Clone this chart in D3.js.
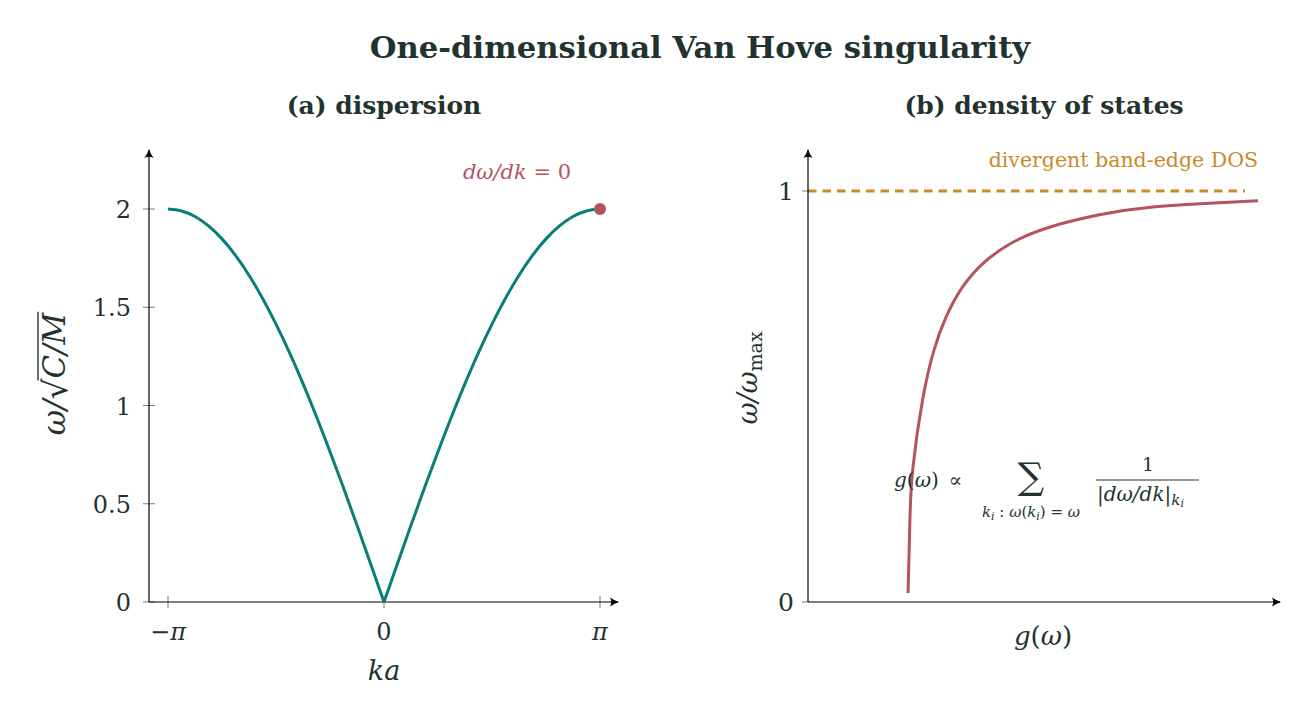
<!DOCTYPE html>
<html>
<head>
<meta charset="utf-8">
<script src="https://cdn.jsdelivr.net/npm/d3@7"></script>
<style>
  body { margin: 0; background: #fff; }
  text { font-family: "DejaVu Serif", serif; }
</style>
</head>
<body>
<div id="chart"></div>
<script>
// (a) dispersion, ka in units of pi, omega in units of sqrt(C/M)
const kaOverPi = [-1, -0.9375, -0.875, -0.8125, -0.75, -0.6875, -0.625, -0.5625, -0.5,
  -0.4375, -0.375, -0.3125, -0.25, -0.1875, -0.125, -0.0625, 0,
  0.0625, 0.125, 0.1875, 0.25, 0.3125, 0.375, 0.4375, 0.5,
  0.5625, 0.625, 0.6875, 0.75, 0.8125, 0.875, 0.9375, 1]
const omegaDisp = [2.0, 1.99, 1.962, 1.914, 1.848, 1.764, 1.663, 1.546, 1.414,
  1.269, 1.111, 0.943, 0.765, 0.581, 0.39, 0.196, 0,
  0.196, 0.39, 0.581, 0.765, 0.943, 1.111, 1.269, 1.414,
  1.546, 1.663, 1.764, 1.848, 1.914, 1.962, 1.99, 2.0]
const dispYTicks = [0, 0.5, 1, 1.5, 2]
const dispYTickLabels = ['0', '0.5', '1', '1.5', '2']
const dispXTicks = [-1, 0, 1]
const dispXTickLabels = ['\u2212\u03c0', '0', '\u03c0']

// (b) density of states, omega / omega_max vs g(omega) (arbitrary units)
const omegaDos = [0.022, 0.207, 0.328, 0.491, 0.613, 0.693, 0.766, 0.827, 0.873, 0.91, 0.942, 0.961, 0.971, 0.976]
const gDos = [0.975, 0.994, 1.023, 1.116, 1.228, 1.345, 1.505, 1.72, 1.98, 2.33, 2.84, 3.36, 3.96, 4.386]
const dosYTicks = [0, 1]
const dosYTickLabels = ['0', '1']
const bandEdge = 1

const ink = '#22332f'
const teal = '#0b7d78'
const red = '#b3545f'
const orange = '#c98a2b'

const W = 1304, H = 717

const svg = d3.select('#chart').append('svg')
    .attr('width', W)
    .attr('height', H)

const defs = svg.append('defs')
defs.append('marker')
    .attr('id', 'arrow')
    .attr('viewBox', '-10 -6 12 12')
    .attr('refX', 0)
    .attr('refY', 0)
    .attr('markerWidth', 12)
    .attr('markerHeight', 12)
    .attr('markerUnits', 'userSpaceOnUse')
    .attr('orient', 'auto')
    .append('path')
    .attr('d', 'M-8,-4.5 Q-3,-1 1,0 Q-3,1 -8,4.5 Q-5.5,0 -8,-4.5 Z')
    .attr('fill', '#000')

// title
svg.append('text')
    .attr('x', 700)
    .attr('y', 58)
    .attr('text-anchor', 'middle')
    .style('font-weight', 'bold')
    .style('font-size', '30.7px')
    .style('fill', ink)
    .text('One-dimensional Van Hove singularity')

// ---------- panel (a) ----------
const xA = d3.scaleLinear().domain([-1, 1]).range([168, 600])
const yA = d3.scaleLinear().domain([0, 2]).range([602, 209])
const axA = {left: 149, right: 618, top: 150}

const gA = svg.append('g')

gA.append('text')
    .attr('x', 384)
    .attr('y', 114)
    .attr('text-anchor', 'middle')
    .style('font-weight', 'bold')
    .style('font-size', '25px')
    .style('fill', ink)
    .text('(a) dispersion')

// ticks
dispYTicks.forEach((t, i) => {
    gA.append('line')
        .attr('x1', axA.left - 6).attr('x2', axA.left + 6)
        .attr('y1', yA(t)).attr('y2', yA(t))
        .attr('stroke', '#7a7a7a').attr('stroke-width', 1)
    gA.append('text')
        .attr('x', axA.left - 18)
        .attr('y', yA(t) + 9)
        .attr('text-anchor', 'end')
        .style('font-size', '24px')
        .style('fill', ink)
        .text(dispYTickLabels[i])
})
dispXTicks.forEach((t, i) => {
    gA.append('line')
        .attr('x1', xA(t)).attr('x2', xA(t))
        .attr('y1', yA(0) - 6).attr('y2', yA(0) + 6)
        .attr('stroke', '#7a7a7a').attr('stroke-width', 1)
    gA.append('text')
        .attr('x', xA(t))
        .attr('y', yA(0) + 38)
        .attr('text-anchor', 'middle')
        .style('font-size', '24px')
        .style('font-style', i == 1 ? 'normal' : 'italic')
        .style('fill', ink)
        .text(dispXTickLabels[i])
})

// axes
gA.append('line')
    .attr('x1', axA.left).attr('x2', axA.right)
    .attr('y1', yA(0)).attr('y2', yA(0))
    .attr('stroke', '#000').attr('stroke-width', 1.2)
    .attr('marker-end', 'url(#arrow)')
gA.append('line')
    .attr('x1', axA.left).attr('x2', axA.left)
    .attr('y1', yA(0)).attr('y2', axA.top)
    .attr('stroke', '#000').attr('stroke-width', 1.2)
    .attr('marker-end', 'url(#arrow)')

// curve, two branches so the cusp at k = 0 stays sharp
const dispData = kaOverPi.map((k, i) => ({k: k, w: omegaDisp[i]}))
const lineA = d3.line()
    .x(d => xA(d.k))
    .y(d => yA(d.w))
    .curve(d3.curveMonotoneX)
;[dispData.filter(d => d.k <= 0), dispData.filter(d => d.k >= 0)].forEach(branch => {
    gA.append('path')
        .datum(branch)
        .attr('d', lineA)
        .attr('fill', 'none')
        .attr('stroke', teal)
        .attr('stroke-width', 3)
        .attr('stroke-linejoin', 'round')
})

// band-edge point
gA.append('circle')
    .attr('cx', xA(1))
    .attr('cy', yA(2))
    .attr('r', 6)
    .attr('fill', red)

gA.append('text')
    .attr('x', 517)
    .attr('y', 179)
    .attr('text-anchor', 'middle')
    .style('font-size', '21px')
    .style('font-style', 'italic')
    .style('fill', red)
    .html('d\u03c9/dk <tspan font-style="normal">= 0</tspan>')

// x label
gA.append('text')
    .attr('x', 384)
    .attr('y', 680)
    .attr('text-anchor', 'middle')
    .style('font-size', '27px')
    .style('font-style', 'italic')
    .style('fill', ink)
    .text('ka')

// y label: omega / sqrt(C/M)
const yLabA = gA.append('g')
    .attr('transform', 'translate(65,374)rotate(-90)')
const partW = yLabA.append('text')
    .style('font-size', '31px').style('font-style', 'italic').style('fill', ink)
    .text('\u03c9/')
const partR = yLabA.append('text')
    .style('font-size', '33px').style('fill', ink)
    .text('\u221a')
const partCM = yLabA.append('text')
    .style('font-size', '31px').style('font-style', 'italic').style('fill', ink)
    .text('C/M')
const w1 = partW.node().getComputedTextLength()
const w2 = partR.node().getComputedTextLength()
const w3 = partCM.node().getComputedTextLength()
const start = -(w1 + w2 + w3) / 2
partW.attr('x', start)
partR.attr('x', start + w1).attr('y', 2)
partCM.attr('x', start + w1 + w2)
yLabA.append('line')
    .attr('x1', start + w1 + w2 - 2).attr('x2', start + w1 + w2 + w3 + 1)
    .attr('y1', -27).attr('y2', -27)
    .attr('stroke', ink).attr('stroke-width', 1.4)

// ---------- panel (b) ----------
const xB = d3.scaleLinear().domain([0, 4.6]).range([808, 1280])
const yB = d3.scaleLinear().domain([0, 1]).range([602, 191])
const axB = {top: 150}

const gB = svg.append('g')

gB.append('text')
    .attr('x', 1044)
    .attr('y', 114)
    .attr('text-anchor', 'middle')
    .style('font-weight', 'bold')
    .style('font-size', '25px')
    .style('fill', ink)
    .text('(b) density of states')

dosYTicks.forEach((t, i) => {
    gB.append('line')
        .attr('x1', xB(0) - 6).attr('x2', xB(0))
        .attr('y1', yB(t)).attr('y2', yB(t))
        .attr('stroke', '#7a7a7a').attr('stroke-width', 1)
    gB.append('text')
        .attr('x', xB(0) - 14)
        .attr('y', yB(t) + 9)
        .attr('text-anchor', 'end')
        .style('font-size', '25px')
        .style('fill', ink)
        .text(dosYTickLabels[i])
})

// band edge dashed line
gB.append('line')
    .attr('x1', xB(0)).attr('x2', 1245)
    .attr('y1', yB(bandEdge)).attr('y2', yB(bandEdge))
    .attr('stroke', orange)
    .attr('stroke-width', 2.8)
    .attr('stroke-dasharray', '8.5,6')

gB.append('text')
    .attr('x', 1258)
    .attr('y', 167)
    .attr('text-anchor', 'end')
    .style('font-size', '20.5px')
    .style('fill', orange)
    .text('divergent band-edge DOS')

// axes
gB.append('line')
    .attr('x1', xB(0)).attr('x2', xB.range()[1])
    .attr('y1', yB(0)).attr('y2', yB(0))
    .attr('stroke', '#000').attr('stroke-width', 1.2)
    .attr('marker-end', 'url(#arrow)')
gB.append('line')
    .attr('x1', xB(0)).attr('x2', xB(0))
    .attr('y1', yB(0)).attr('y2', axB.top)
    .attr('stroke', '#000').attr('stroke-width', 1.2)
    .attr('marker-end', 'url(#arrow)')

const dosData = omegaDos.map((w, i) => ({g: gDos[i], w: w}))
gB.append('path')
    .datum(dosData)
    .attr('d', d3.line()
        .x(d => xB(d.g))
        .y(d => yB(d.w))
        .curve(d3.curveNatural))
    .attr('fill', 'none')
    .attr('stroke', red)
    .attr('stroke-width', 3)

// axis labels
gB.append('text')
    .attr('x', 1043)
    .attr('y', 645)
    .attr('text-anchor', 'middle')
    .style('font-size', '26px')
    .style('font-style', 'italic')
    .style('fill', ink)
    .html('g<tspan font-style="normal">(</tspan>\u03c9<tspan font-style="normal">)</tspan>')

gB.append('text')
    .attr('transform', 'translate(757,378)rotate(-90)')
    .attr('text-anchor', 'middle')
    .style('font-size', '27px')
    .style('font-style', 'italic')
    .style('fill', ink)
    .html('\u03c9/\u03c9<tspan font-style="normal" font-size="19px" dy="5">max</tspan>')

// formula annotation
const fm = gB.append('g').style('fill', ink)
fm.append('text')
    .attr('x', 894).attr('y', 487)
    .style('font-size', '20px').style('font-style', 'italic')
    .html('g<tspan font-style="normal">(</tspan>\u03c9<tspan font-style="normal">)\u2002\u221d</tspan>')
fm.append('text')
    .attr('x', 1031).attr('y', 489)
    .attr('text-anchor', 'middle')
    .style('font-size', '37px')
    .text('\u2211')
fm.append('text')
    .attr('x', 1031).attr('y', 517)
    .attr('text-anchor', 'middle')
    .style('font-size', '15px').style('font-style', 'italic')
    .html('k<tspan font-size="11px" dy="3">i</tspan><tspan dy="-3" font-style="normal"> : </tspan>\u03c9<tspan font-style="normal">(</tspan>k<tspan font-size="11px" dy="3">i</tspan><tspan dy="-3" font-style="normal">) = </tspan>\u03c9')
fm.append('text')
    .attr('x', 1148).attr('y', 471)
    .attr('text-anchor', 'middle')
    .style('font-size', '19px')
    .text('1')
fm.append('line')
    .attr('x1', 1096).attr('x2', 1199)
    .attr('y1', 480).attr('y2', 480)
    .attr('stroke', ink).attr('stroke-width', 1)
fm.append('text')
    .attr('x', 1097).attr('y', 501)
    .style('font-size', '20px').style('font-style', 'italic')
    .html('<tspan font-style="normal">|</tspan>d\u03c9/dk<tspan font-style="normal">|</tspan><tspan font-size="15px" dy="4">k</tspan><tspan font-size="11px" dy="2">i</tspan>')
</script>
</body>
</html>
